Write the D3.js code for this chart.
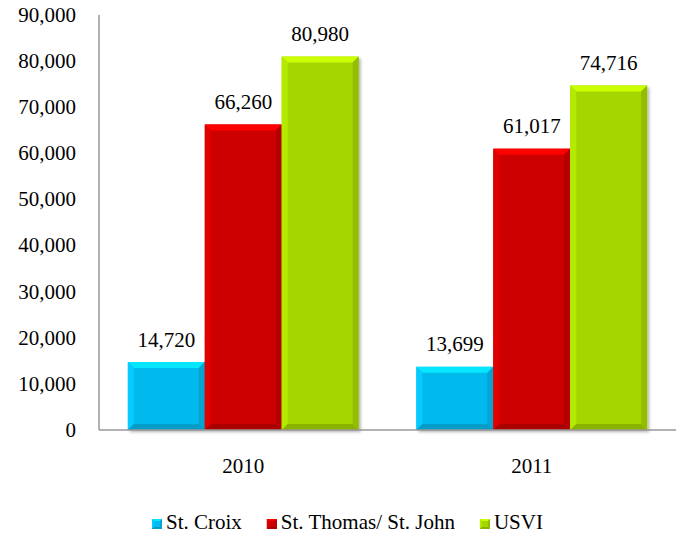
<!DOCTYPE html>
<html>
<head>
<meta charset="utf-8">
<script src="https://cdn.jsdelivr.net/npm/d3@7"></script>
<style>
  body { margin: 0; background: #fff; }
</style>
</head>
<body>
<script>
const years = ['2010', '2011'];
const seriesNames = ['St. Croix', 'St. Thomas/ St. John', 'USVI'];
const stCroix = [14720, 13699];
const stThomas = [66260, 61017];
const usvi = [80980, 74716];
const yTicks = [0, 10000, 20000, 30000, 40000, 50000, 60000, 70000, 80000, 90000];
const colors = ['#06BAEE', '#CC0000', '#A5D600'];

const width = 676, height = 537;
const margin = { top: 15, right: 0, bottom: 107, left: 99 };
const serif = '"Liberation Serif"';
const fontSize = 21;

const data = years.map((year, i) => ({
  year: year,
  values: [stCroix[i], stThomas[i], usvi[i]]
}));

const svg = d3.select('body').append('svg')
  .attr('width', width)
  .attr('height', height)
  .style('font-family', serif);

const defs = svg.append('defs');
const shadow = defs.append('filter')
  .attr('id', 'shadow')
  .attr('x', '-10%').attr('y', '-10%')
  .attr('width', '130%').attr('height', '130%');
shadow.append('feDropShadow')
  .attr('dx', 2).attr('dy', 2)
  .attr('stdDeviation', 1.5)
  .attr('flood-color', '#000')
  .attr('flood-opacity', 0.3);

const x0 = d3.scaleBand()
  .domain(years)
  .range([margin.left, width - margin.right]);

const x1 = d3.scaleBand()
  .domain(seriesNames)
  .range([x0.bandwidth() * 0.1, x0.bandwidth() * 0.9]);

const y = d3.scaleLinear()
  .domain([0, 90000])
  .range([height - margin.bottom, margin.top]);

// axes
svg.append('line')
  .attr('x1', margin.left).attr('x2', margin.left)
  .attr('y1', y(90000)).attr('y2', y(0))
  .attr('stroke', '#999').attr('stroke-width', 1.5);

svg.append('g')
  .selectAll('text')
  .data(yTicks)
  .enter()
  .append('text')
  .attr('x', 76)
  .attr('y', (d) => y(d))
  .attr('dy', '0.33em')
  .attr('text-anchor', 'end')
  .style('font-family', serif)
  .attr('font-size', fontSize)
  .attr('fill', '#000')
  .text((d) => d3.format(',')(d));

svg.append('g')
  .selectAll('text')
  .data(years)
  .enter()
  .append('text')
  .attr('x', (d) => x0(d) + x0.bandwidth() / 2)
  .attr('y', y(0) + 43)
  .attr('text-anchor', 'middle')
  .style('font-family', serif)
  .attr('font-size', fontSize)
  .text((d) => d);

// beveled bar
function bevelBar(g, bx, by, bw, bh, color, b, withShadow) {
  const c = d3.color(color);
  const bar = g.append('g');
  bar.append('rect')
    .attr('x', bx).attr('y', by)
    .attr('width', bw).attr('height', bh)
    .attr('fill', color)
    .attr('filter', withShadow ? 'url(#shadow)' : null);
  const x2 = bx + bw, y2 = by + bh;
  const faces = [
    { pts: [[bx, by], [x2, by], [x2 - b, by + b], [bx + b, by + b]], fill: c.brighter(0.6) },
    { pts: [[bx, by], [bx + b, by + b], [bx + b, y2 - b], [bx, y2]], fill: c.brighter(0.25) },
    { pts: [[x2, by], [x2, y2], [x2 - b, y2 - b], [x2 - b, by + b]], fill: c.darker(0.35) },
    { pts: [[bx, y2], [bx + b, y2 - b], [x2 - b, y2 - b], [x2, y2]], fill: c.darker(0.5) }
  ];
  bar.selectAll('polygon')
    .data(faces)
    .enter()
    .append('polygon')
    .attr('points', (d) => d.pts.map((p) => p.join(',')).join(' '))
    .attr('fill', (d) => d.fill);
}

const bars = svg.append('g');
data.forEach((d) => {
  d.values.forEach((v, j) => {
    const bx = x0(d.year) + x1(seriesNames[j]);
    const by = y(v);
    bevelBar(bars, bx, by, x1.bandwidth(), y(0) - by, colors[j], 6, true);
  });
});

// x axis line on top of bars
svg.append('line')
  .attr('x1', margin.left).attr('x2', width)
  .attr('y1', y(0)).attr('y2', y(0))
  .attr('stroke', '#999').attr('stroke-width', 1.5);

// data labels
data.forEach((d) => {
  d.values.forEach((v, j) => {
    svg.append('text')
      .attr('x', x0(d.year) + x1(seriesNames[j]) + x1.bandwidth() / 2)
      .attr('y', y(v) - 15.5)
      .attr('text-anchor', 'middle')
      .style('font-family', serif)
      .attr('font-size', fontSize)
      .text(d3.format(',')(v));
  });
});

// legend, centred under the plot
const legend = svg.append('g');
const legendBase = 529;
let lx = 0;
seriesNames.forEach((name, j) => {
  bevelBar(legend, lx, legendBase - 10, 10, 10, colors[j], 2, false);
  const t = legend.append('text')
    .attr('x', lx + 14)
    .attr('y', legendBase)
    .style('font-family', serif)
    .attr('font-size', fontSize)
    .text(name);
  lx += 14 + t.node().getComputedTextLength() + 25;
});
legend.attr('transform', 'translate(152,0)');
</script>
</body>
</html>
